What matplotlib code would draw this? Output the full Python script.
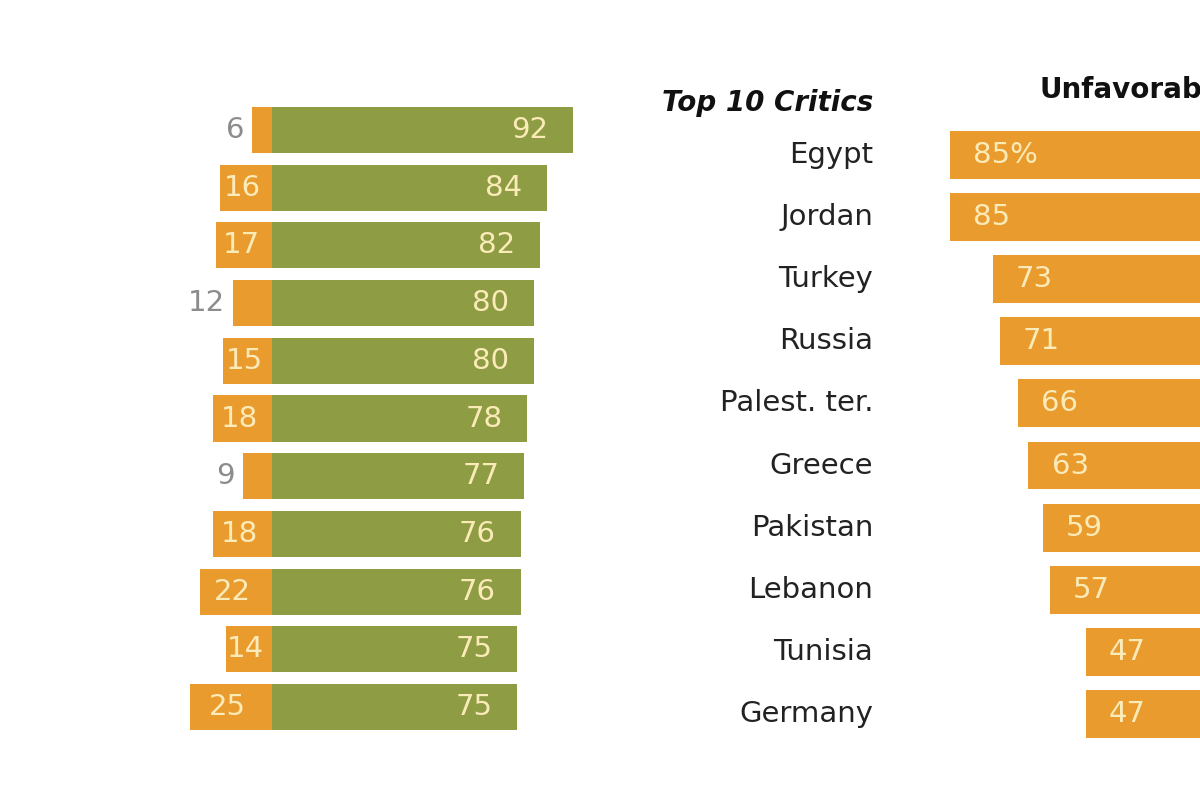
import matplotlib.pyplot as plt

# left panel (unfavorable / favorable)
unfav = [6, 16, 17, 12, 15, 18, 9, 18, 22, 14, 25]
fav = [92, 84, 82, 80, 80, 78, 77, 76, 76, 75, 75]

# right panel: top 10 critics
critics = ['Egypt', 'Jordan', 'Turkey', 'Russia', 'Palest. ter.',
           'Greece', 'Pakistan', 'Lebanon', 'Tunisia', 'Germany']
crit_unfav = [85, 85, 73, 71, 66, 63, 59, 57, 47, 47]

GREEN = '#8E9D44'
ORANGE = '#E99B2D'
CREAM = '#FBEBB8'
GRAY = '#8C8C8C'

plt.rcParams['font.family'] = ['DejaVu Sans']

fig = plt.figure(figsize=(12, 8), dpi=100)
fig.patch.set_facecolor('white')

# ---- left panel ----
ax1 = fig.add_axes([0, 0, 0.5, 1])
ax1.set_xlim(-272 / 3.27, 328 / 3.27)
ax1.set_ylim((800 - 130) / 57.7, -130 / 57.7)
ax1.axis('off')

rows = list(range(len(fav)))
ax1.barh(rows, fav, height=0.8, color=GREEN)
ax1.barh(rows, [-u for u in unfav], height=0.8, color=ORANGE)

for i in rows:
    ax1.text(fav[i] - 7.5, i, str(fav[i]), ha='right', va='center',
             fontsize=21, color=CREAM)
    if unfav[i] <= 12:
        ax1.text(-unfav[i] - 2.5, i, str(unfav[i]), ha='right', va='center',
                 fontsize=21, color=GRAY)
    else:
        ax1.text(-unfav[i] / 2 - 1, i, str(unfav[i]), ha='center', va='center',
                 fontsize=21, color=CREAM)

# ---- right panel ----
ax2 = fig.add_axes([0.5, 0, 0.5, 1])
ax2.set_xlim((1254 - 600) / 3.58, (1254 - 1200) / 3.58)
ax2.set_ylim((800 - 155) / 62.1, -155 / 62.1)
ax2.axis('off')

rows2 = list(range(len(critics)))
ax2.barh(rows2, crit_unfav, height=0.77, color=ORANGE)

for i in rows2:
    lab = f'{crit_unfav[i]}%' if i == 0 else str(crit_unfav[i])
    ax2.text(crit_unfav[i] - 6.5, i, lab, ha='left', va='center',
             fontsize=21, color=CREAM)
    ax2.text((1254 - 873) / 3.58, i, critics[i], ha='right', va='center',
             fontsize=21, color='#222222')

ax2.text((1254 - 873) / 3.58, -0.84, 'Top 10 Critics', ha='right', va='center',
         fontsize=20, fontweight='bold', fontstyle='italic', color='#111111')
# header is cut by the right edge in the reference crop
ax2.text((1254 - 1040) / 3.58, -1.05, 'Unfavorable', ha='left', va='center',
         fontsize=20, fontweight='bold', color='#111111', clip_on=False)

fig.savefig('out.png', dpi=100)
